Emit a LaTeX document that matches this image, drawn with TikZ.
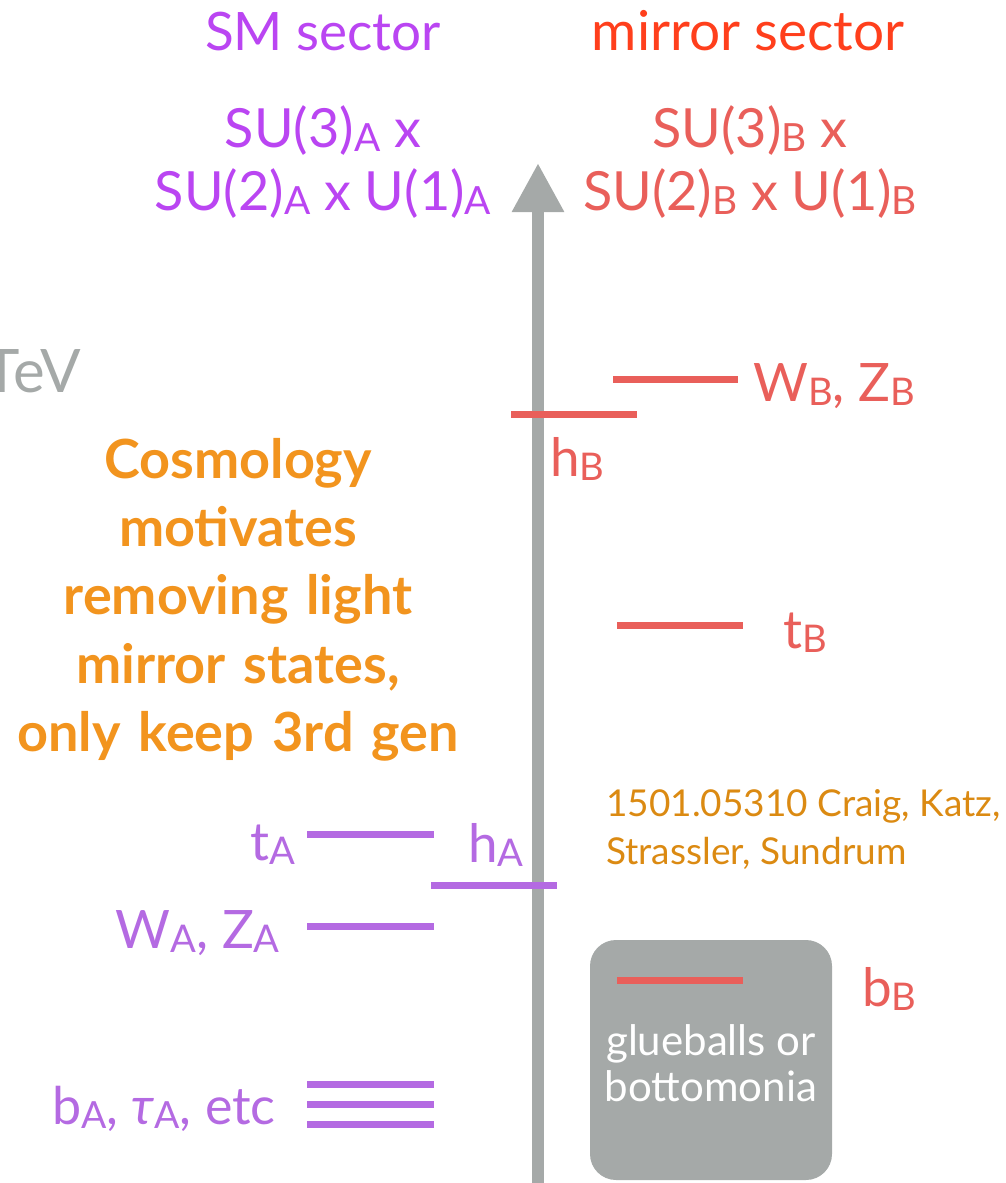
\documentclass[tikz,border=0pt]{standalone}
\usepackage{fontspec}
\setmainfont{Lato}
\usetikzlibrary{arrows.meta}
\definecolor{axisgray}{HTML}{A5A9A8}
\definecolor{smtop}{HTML}{BA45F2}
\definecolor{smpurple}{HTML}{B46AE2}
\definecolor{mirrortop}{HTML}{FF3F1C}
\definecolor{mirrorred}{HTML}{E95F5A}
\definecolor{cosmo}{HTML}{F2941E}
\definecolor{refor}{HTML}{DB8A12}
\newcommand\lo[1]{\raisebox{-0.08em}{\scalebox{0.72}{#1}}}
\newcommand\fs[1]{\fontsize{#1}{#1}\selectfont}
\tikzset{
  lvlA/.style={line width=7, smpurple},
  lvlB/.style={line width=7, mirrorred},
  lab/.style={inner sep=0pt, anchor=base},
}
\begin{document}
\begin{tikzpicture}[x=1pt,y=-1pt]
\useasboundingbox (0,0) rectangle (1006,1183);
% axis
\coordinate (axbot) at (538,1190);
\coordinate (axtop) at (538,163);
\draw[axisgray, line width=12, -{Triangle[width=49,length=49]}] (axbot) -- (axtop);
% headings
\node[lab, smtop] (smh) at (323,50) {\fs{53}SM sector};
\node[lab, mirrortop] (mih) at (748,50) {\fs{55}mirror sector};
\node[lab, smtop] (sma1) at (323,147) {\fs{54}SU(3)\lo{A} x};
\node[lab, smtop] (sma2) at (323,210) {\fs{54}SU(2)\lo{A} x U(1)\lo{A}};
\node[lab, mirrorred] (smb1) at (750,147) {\fs{54}SU(3)\lo{B} x};
\node[lab, mirrorred] (smb2) at (750,210) {\fs{54}SU(2)\lo{B} x U(1)\lo{B}};
% TeV
\node[lab, axisgray, anchor=base east] (tev) at (81,392) {\fs{60}TeV};
% mirror levels
\draw[lvlB] (613,379) -- (738,379);
\node[lab, mirrorred, anchor=base west] (wzb) at (753,401) {\fs{53}W\lo{B}, Z\lo{B}};
\draw[lvlB] (511,414) -- (637,414);
\node[lab, mirrorred, anchor=base west] (hb) at (550,476) {\fs{53}h\lo{B}};
\draw[lvlB] (617,625) -- (743,625);
\node[lab, mirrorred, anchor=base west] (tb) at (783,648) {\fs{53}t\lo{B}};
% cosmology text
\node[cosmo, font=\bfseries\fontsize{54}{68.3}\selectfont, align=center, inner sep=0pt, text width=500, anchor=north] (cosmo)
  at (238,438) {Cosmology\\motivates\\removing light\\mirror states,\\only keep 3rd gen};
% reference
\node[refor, anchor=base west, inner sep=0pt] (ref) at (606,816) {\fs{37}1501.05310 Craig, Katz,};
\node[refor, anchor=base west, inner sep=0pt] (ref2) at (606,864) {\fs{37}Strassler, Sundrum};
% SM levels
\draw[lvlA] (307,834) -- (434,834);
\node[lab, smpurple, anchor=base east] (ta) at (296,860) {\fs{53}t\lo{A}};
\node[lab, smpurple, anchor=base west] (ha) at (468,862) {\fs{53}h\lo{A}};
\draw[lvlA] (431,885) -- (557,885);
\draw[lvlA] (307,926) -- (434,926);
\node[lab, smpurple, anchor=base east] (wza) at (280,948) {\fs{53}W\lo{A}, Z\lo{A}};
\draw[lvlA] (307,1084) -- (434,1084);
\draw[lvlA] (307,1104) -- (434,1104);
\draw[lvlA] (307,1124) -- (434,1124);
\node[lab, smpurple, anchor=base west] (ba) at (52,1124) {\fs{52}b\lo{A}, \textit{τ}\lo{A}, etc};
% glueball box
\node[fill=axisgray, rounded corners=26, minimum width=242, minimum height=240, inner sep=0pt] (box) at (711,1060) {};
\draw[lvlB] (617,980) -- (743,980);
\node[white, align=center, inner sep=0pt, font=\fontsize{42}{46}\selectfont] (glue) at (711,1063) {glueballs or\\bottomonia};
\node[lab, mirrorred, anchor=base west] (bb) at (862,1006) {\fs{53}b\lo{B}};
\end{tikzpicture}
\end{document}
